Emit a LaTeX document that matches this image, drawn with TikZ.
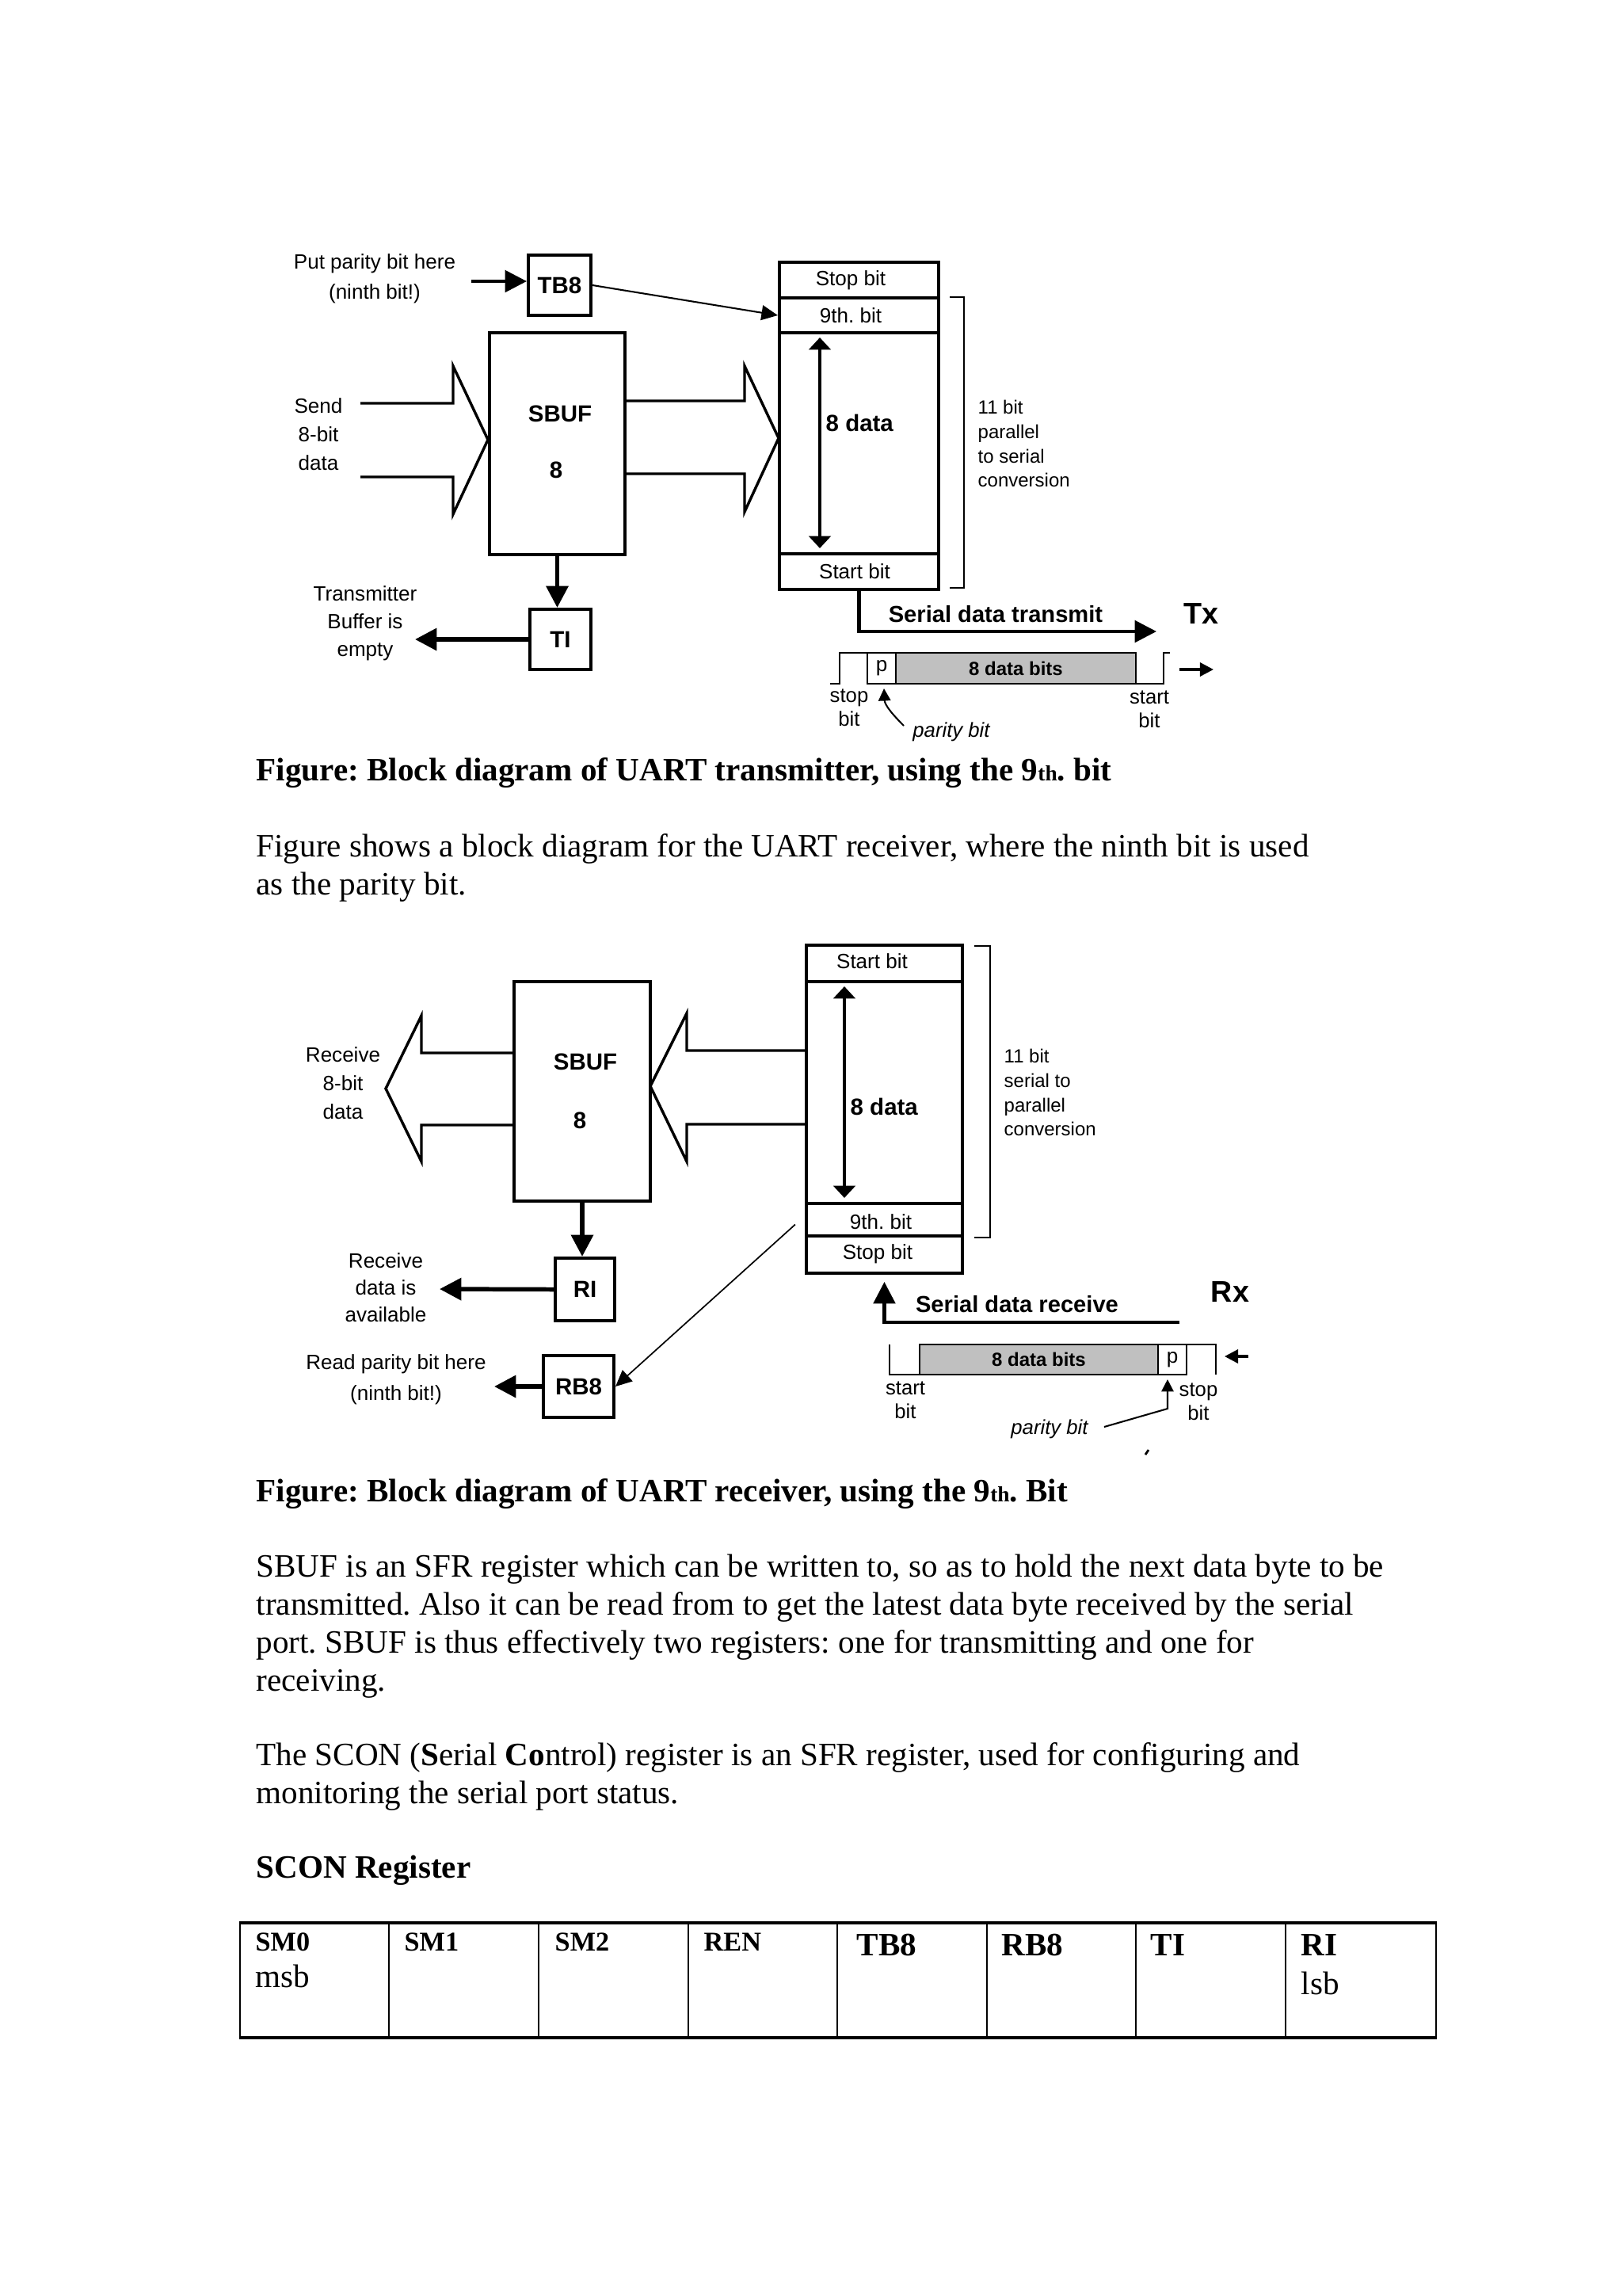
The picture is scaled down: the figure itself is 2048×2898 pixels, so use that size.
\documentclass[tikz,border=0pt]{standalone}
\usepackage{fontspec}
\setmainfont{Liberation Serif}
\newfontfamily\hv{Liberation Sans}
\usetikzlibrary{arrows.meta,fit,calc}
\definecolor{wavegray}{RGB}{192,192,192}
\frenchspacing
\begin{document}
\begin{tikzpicture}[x=0.010254cm,y=-0.010254cm,
  box/.style={draw,line width=1.2pt,inner sep=0pt},
  thinbox/.style={draw,line width=0.6pt,inner sep=0pt},
  lbl/.style={font=\hv\fontsize{7.6}{10.5}\selectfont,align=center,inner sep=0pt},
  smalllbl/.style={font=\hv\fontsize{7}{9}\selectfont,align=left,inner sep=0pt,anchor=west},
  regbold/.style={font=\hv\bfseries\fontsize{8.6}{10}\selectfont,inner sep=0pt},
  bigbold/.style={font=\hv\bfseries\fontsize{11}{12}\selectfont,inner sep=0pt},
  serbold/.style={font=\hv\bfseries\fontsize{8.5}{10}\selectfont,inner sep=0pt},
  bitsbold/.style={font=\hv\bfseries\fontsize{7}{8}\selectfont,inner sep=0pt},
  plbl/.style={font=\hv\itshape\fontsize{7.5}{9}\selectfont,inner sep=0pt},
  body/.style={font=\fontsize{12}{14}\selectfont,anchor=base west,inner sep=0pt},
  bodybold/.style={font=\bfseries\fontsize{12}{14}\selectfont,anchor=base west,inner sep=0pt},
  tabsmall/.style={font=\bfseries\fontsize{10}{12}\selectfont,anchor=base west,inner sep=0pt},
  blockarrow/.style={line width=1pt,line join=miter},
  bigtip/.style={-{Triangle[length=8pt,width=8pt]}},
  dbltip/.style={{Triangle[length=4.5pt,width=8pt]}-{Triangle[length=4.5pt,width=8pt]}},
  smalltip/.style={-{Triangle[length=5pt,width=5pt]}},
  wave/.style={line width=0.6pt}
]
\fill[white] (0,0) rectangle (2048,2898);
\useasboundingbox (0,0) rectangle (2048,2898);

%%%%%%%%%%%%%%%% TRANSMITTER %%%%%%%%%%%%%%%%
\node[lbl,font=\hv\fontsize{7.6}{11}\selectfont] (putlbl) at (473,352) {Put parity bit here\\(ninth bit!)};
\node[box,fit={(667,322) (746,398)}] (tb8) {};
\node[regbold] (tb8t) at (tb8.center) {TB8};
\coordinate (putarr) at (595,355);
\draw[line width=1.2pt,bigtip] (putarr) -- (putarr -| tb8.west);

\node[box,fit={(618,420) (789,700)}] (tsbuf) {};
\node[regbold] (tsbuft) at (707,522) {SBUF};
\node[regbold] (tsbuf8) at (702,593) {8};

\draw[blockarrow] (455,509) -- (572,509) -- (572,462) -- (616,555) -- (572,649) -- (572,602) -- (455,602);
\node[lbl] (sendlbl) at (402,548) {Send\\8-bit\\data};
\draw[blockarrow] (789,506) -- (940,506) -- (940,462) -- (983,553) -- (940,646) -- (940,598) -- (789,598);

\node[box,fit={(669,769) (746,845)}] (tti) {};
\node[regbold] (ttit) at (tti.center) {TI};
\draw[line width=1.6pt,bigtip] (tsbuf.south) -- (tsbuf.south |- tti.north);
\coordinate (tiend) at (524,807);
\draw[line width=1.6pt,bigtip] (tti.west) -- (tiend);
\node[lbl,font=\hv\fontsize{7.6}{10.2}\selectfont] (translbl) at (461,787) {Transmitter\\Buffer is\\empty};

% shift register (tx)
\node[box,fit={(984,331) (1185,376)}] (tstop) {};
\node[box,fit={(984,376) (1185,420)}] (tninth) {};
\node[box,fit={(984,420) (1185,699)}] (tdata) {};
\node[box,fit={(984,699) (1185,744)}] (tstart) {};
\node[lbl] (tstopt) at (1074,354) {Stop bit};
\node[lbl] (tnintht) at (1074,398) {9th. bit};
\node[lbl] (tstartt) at (1079,721) {Start bit};
\draw[line width=1.4pt,dbltip] (1035,426) -- (1035,692);
\node[regbold,anchor=west] (tdatat) at (1042,534) {8 data};
\draw[line width=0.6pt,-{Triangle[length=6pt,width=5.5pt]}] (tb8.east) -- (tninth.west);

\draw[line width=0.6pt] (1199,375) -- (1217,375) -- (1217,742) -- (1199,742);
\node[smalllbl] (tconv) at (1234,560) {11 bit\\parallel\\to serial\\conversion};

\coordinate (txend) at (1460,797);
\draw[line width=1.2pt,bigtip] (tstart.south) -- (tstart.south |- txend) -- (txend);
\node[serbold] (txlbl) at (1257,775) {Serial data transmit};
\node[bigbold] (txname) at (1516,775) {Tx};

% waveform (tx)
\draw[wave] (1048,863) -- (1060,863) -- (1060,824) -- (1095,824);
\node[thinbox,fit={(1095,824) (1131,863)}] (tp) {};
\node[lbl] (tpt) at (tp.center) {p};
\node[thinbox,fill=wavegray,fit={(1131,824) (1434,863)}] (tbits) {};
\node[bitsbold] (tbitst) at (tbits.center) {8 data bits};
\draw[wave] (1434,863) -- (1469,863) -- (1469,824) -- (1477,824);
\coordinate (twa) at (1489,845);
\coordinate (twb) at (1532,845);
\draw[line width=1pt,smalltip] (twa) -- (twb);
\node[lbl,font=\hv\fontsize{7.5}{8.7}\selectfont] (tstopl) at (1072,893) {stop\\bit};
\node[lbl,font=\hv\fontsize{7.5}{8.7}\selectfont] (tstartl) at (1451,895) {start\\bit};
\node[plbl] (tparl) at (1201,924) {parity bit};
\draw[line width=0.6pt,-{Triangle[length=4.5pt,width=4.5pt]}] (1141,916) .. controls (1127,902) and (1117,890) .. ($(tp.south)+(3,5)$);

% caption + text
\node[bodybold] (cap1) at (323,985) {Figure: Block diagram of UART transmitter, using the 9{\fontsize{8}{8}\selectfont th}. bit};
\node[body] (p1a) at (323,1081) {Figure shows a block diagram for the UART receiver, where the ninth bit is used};
\node[body] (p1b) at (323,1129) {as the parity bit.};

%%%%%%%%%%%%%%%% RECEIVER %%%%%%%%%%%%%%%%
\node[box,fit={(649,1239) (821,1516)}] (rsbuf) {};
\node[regbold] (rsbuft) at (739,1340) {SBUF};
\node[regbold] (rsbuf8) at (732,1414) {8};

\draw[blockarrow] (649,1329) -- (532,1329) -- (532,1282) -- (487,1374) -- (532,1466) -- (532,1420) -- (649,1420);
\node[lbl] (recvlbl) at (433,1367) {Receive\\8-bit\\data};
\draw[blockarrow] (1018,1326) -- (867,1326) -- (867,1279) -- (821,1371) -- (867,1466) -- (867,1419) -- (1018,1419);

\node[box,fit={(701,1588) (776,1667)}] (rri) {};
\node[regbold] (rrit) at (rri.center) {RI};
\draw[line width=1.6pt,bigtip] (rsbuf.south) -- (rsbuf.south |- rri.north);
\coordinate (riend) at (555,1627);
\draw[line width=1.6pt,bigtip] (rri.west) -- (riend);
\node[lbl,font=\hv\fontsize{7.6}{10}\selectfont] (availlbl) at (487,1625) {Receive\\data is\\available};

\node[box,fit={(686,1711) (775,1789)}] (rb8) {};
\node[regbold] (rb8t) at (rb8.center) {RB8};
\coordinate (rb8end) at (624,1750);
\draw[line width=1.6pt,bigtip] (rb8.west) -- (rb8end);
\node[lbl,font=\hv\fontsize{7.6}{11.3}\selectfont] (readlbl) at (500,1741) {Read parity bit here\\(ninth bit!)};

% shift register (rx)
\node[box,fit={(1018,1193) (1215,1239)}] (rstart) {};
\node[box,fit={(1018,1239) (1215,1519)}] (rdata) {};
\node[box,fit={(1018,1519) (1215,1560)}] (rninth) {};
\node[box,fit={(1018,1560) (1215,1607)}] (rstop) {};
\node[lbl] (rstartt) at (1101,1213) {Start bit};
\node[lbl] (rnintht) at (1112,1542) {9th. bit};
\node[lbl] (rstopt) at (1108,1583) {Stop bit};
\draw[line width=1.4pt,dbltip] (1066,1245) -- (1066,1512);
\node[regbold,anchor=west] (rdatat) at (1073,1397) {8 data};
\draw[line width=0.5pt,-{Triangle[length=6pt,width=5.5pt]}] ($(rninth.west)+(-12,6)$) -- (rb8.east);

\draw[line width=0.6pt] (1230,1194) -- (1250,1194) -- (1250,1562) -- (1230,1562);
\node[smalllbl] (rconv) at (1267,1379) {11 bit\\serial to\\parallel\\conversion};

\coordinate (rxstart) at (1489,1669);
\draw[line width=1.2pt,bigtip,shorten >=2.6pt] (rxstart) -- (rxstart -| rstop.south) -- (rstop.south);
\node[serbold] (rxlbl) at (1284,1646) {Serial data receive};
\node[bigbold] (rxname) at (1553,1631) {Rx};

% waveform (rx)
\draw[wave] (1123,1697) -- (1123,1735) -- (1161,1735);
\node[thinbox,fill=wavegray,fit={(1161,1697) (1462,1735)}] (rbits) {};
\node[bitsbold] (rbitst) at (rbits.center) {8 data bits};
\node[thinbox,fit={(1462,1697) (1498,1735)}] (rp) {};
\node[lbl] (rpt) at (rp.center) {p};
\draw[wave] (1498,1697) -- (1535,1697) -- (1535,1735);
\coordinate (rwa) at (1576,1712);
\coordinate (rwb) at (1546,1712);
\draw[line width=1pt,smalltip] (rwa) -- (rwb);
\node[lbl,font=\hv\fontsize{7.5}{8.7}\selectfont] (rstartl) at (1143,1767) {start\\bit};
\node[lbl,font=\hv\fontsize{7.5}{8.7}\selectfont] (rstopl) at (1513,1769) {stop\\bit};
\node[plbl] (rparl) at (1325,1804) {parity bit};
\draw[line width=0.6pt,-{Triangle[length=4.5pt,width=4.5pt]}] (1394,1801) -- (1474,1778) -- ($(rp.south)+(-6,5)$);
\draw[line width=0.8pt] (1446,1836) -- (1450,1830);

% caption + text
\node[bodybold] (cap2) at (323,1895) {Figure: Block diagram of UART receiver, using the 9{\fontsize{8}{8}\selectfont th}. Bit};
\node[body] (p2a) at (323,1990) {SBUF is an SFR register which can be written to, so as to hold the next data byte to be};
\node[body] (p2b) at (323,2038) {transmitted. Also it can be read from to get the latest data byte received by the serial};
\node[body] (p2c) at (323,2086) {port. SBUF is thus effectively two registers: one for transmitting and one for};
\node[body] (p2d) at (323,2134) {receiving.};
\node[body] (p3a) at (323,2228) {The SCON (\textbf{S}erial \textbf{Co}ntrol) register is an SFR register, used for configuring and};
\node[body] (p3b) at (323,2276) {monitoring the serial port status.};
\node[bodybold] (scont) at (323,2370) {SCON Register};

%%%%%%%%%%%%%%%% TABLE %%%%%%%%%%%%%%%%
\foreach \a/\b/\n in {303/491/1,491/680/2,680/869/3,869/1057/4,1057/1246/5,1246/1434/6,1434/1623/7,1623/1813/8}
  \node[draw,line width=0.5pt,inner sep=0pt,fit={(\a,2428) (\b,2571)}] (cell\n) {};
\draw[line width=1.1pt] (cell1.north west) -- (cell8.north east);
\draw[line width=1.1pt] (cell1.south west) -- (cell8.south east);
\node[tabsmall] (t1) at (322,2462) {SM0};
\node[body] (t1b) at (322,2508) {msb};
\node[tabsmall] (t2) at (510,2462) {SM1};
\node[tabsmall] (t3) at (700,2462) {SM2};
\node[tabsmall] (t4) at (888,2462) {REN};
\node[bodybold] (t5) at (1081,2468) {TB8};
\node[bodybold] (t6) at (1264,2468) {RB8};
\node[bodybold] (t7) at (1452,2468) {TI};
\node[bodybold] (t8) at (1642,2468) {RI};
\node[body] (t8b) at (1642,2517) {lsb};
\end{tikzpicture}
\end{document}
